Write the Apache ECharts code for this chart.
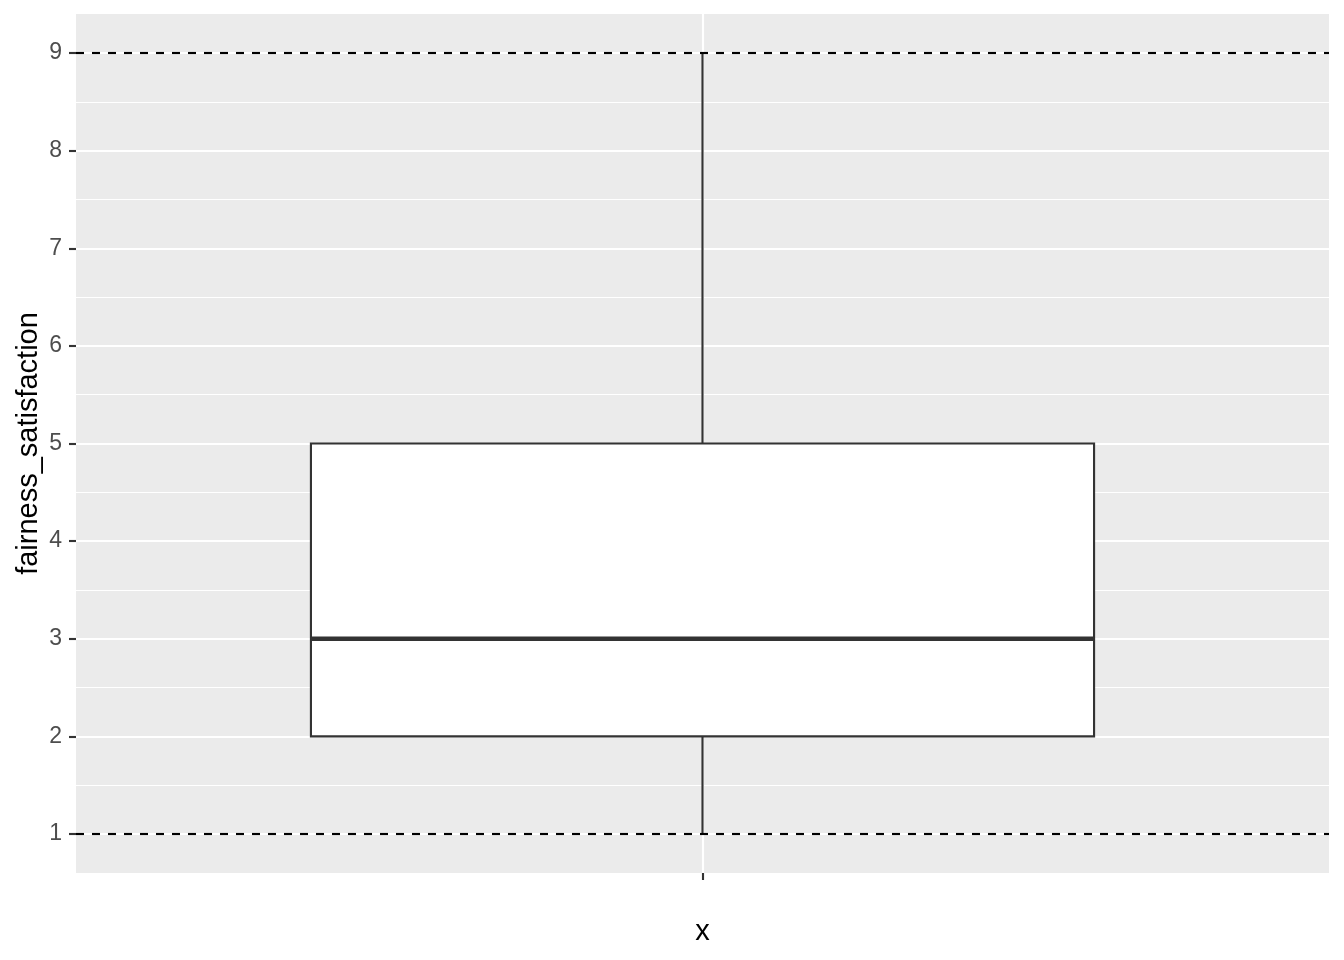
<!DOCTYPE html>
<html>
<head>
<meta charset="utf-8">
<script src="https://cdn.jsdelivr.net/npm/echarts@6/dist/echarts.min.js"></script>
<style>
html,body{margin:0;padding:0;background:#fff;}
#chart{width:1344px;height:960px;}
</style>
</head>
<body>
<div id="chart"></div>
<script>
// data
var categories = [''];
var boxStats = [[0, 1, 2, 3, 5, 9]]; // [category index, min, Q1, median, Q3, max]
var yTicks = [1, 2, 3, 4, 5, 6, 7, 8, 9];
var yMinorGrid = [1.5, 2.5, 3.5, 4.5, 5.5, 6.5, 7.5, 8.5];
var refLines = [1, 9];
var yTitle = 'fairness_satisfaction';
var xTitle = 'x';

var chart = echarts.init(document.getElementById('chart'), null, {renderer: 'canvas'});

var FONT = '"Liberation Sans", Arial, sans-serif';

var gridLines = [];
yMinorGrid.forEach(function (v) {
  gridLines.push({yAxis: v, lineStyle: {color: '#FFFFFF', width: 1.07, type: 'solid'}});
});
yTicks.forEach(function (v) {
  gridLines.push({yAxis: v, lineStyle: {color: '#FFFFFF', width: 2.13, type: 'solid'}});
});
gridLines.push({xAxis: 0, lineStyle: {color: '#FFFFFF', width: 2.13, type: 'solid'}});

var option = {
  backgroundColor: '#FFFFFF',
  animation: false,
  grid: {
    left: 76, right: 15, top: 14, bottom: 87,
    show: true, backgroundColor: '#EBEBEB', borderWidth: 0
  },
  xAxis: {
    type: 'category',
    data: categories,
    boundaryGap: true,
    axisLine: {show: false},
    axisTick: {show: true, alignWithLabel: true, length: 7, lineStyle: {color: '#333333', width: 2.13}},
    axisLabel: {show: true, color: '#4D4D4D', fontSize: 23, fontFamily: FONT},
    splitLine: {show: false},
    name: xTitle,
    nameLocation: 'middle',
    nameGap: 44,
    nameMoveOverlap: false,
    nameTextStyle: {color: '#000000', fontSize: 29, fontFamily: FONT}
  },
  yAxis: {
    type: 'value',
    min: 0.6,
    max: 9.4,
    axisLine: {show: false},
    axisTick: {show: true, length: 7, customValues: yTicks, lineStyle: {color: '#333333', width: 2.13}},
    axisLabel: {show: true, customValues: yTicks, margin: 14, color: '#4D4D4D', fontSize: 23, fontFamily: FONT},
    splitLine: {show: false},
    minorSplitLine: {show: false},
    name: yTitle,
    nameLocation: 'middle',
    nameGap: 33,
    nameMoveOverlap: false,
    nameRotate: 90,
    nameTextStyle: {color: '#000000', fontSize: 29, fontFamily: FONT}
  },
  series: [
    {
      type: 'line',
      data: [],
      z: 1,
      silent: true,
      markLine: {
        z: 1,
        silent: true,
        symbol: ['none', 'none'],
        label: {show: false},
        animation: false,
        data: gridLines
      }
    },
    {
      type: 'custom',
      z: 3,
      silent: true,
      data: boxStats,
      encode: {x: 0, y: [1, 2, 3, 4, 5]},
      renderItem: function (params, api) {
        var xi = api.value(0);
        var pMin = api.coord([xi, api.value(1)]);
        var pQ1 = api.coord([xi, api.value(2)]);
        var pMed = api.coord([xi, api.value(3)]);
        var pQ3 = api.coord([xi, api.value(4)]);
        var pMax = api.coord([xi, api.value(5)]);
        var w = api.size([1, 0])[0] * 0.625;
        var cx = pMed[0];
        var stroke = '#333333';
        return {
          type: 'group',
          children: [
            {type: 'line', shape: {x1: cx, y1: pMin[1], x2: cx, y2: pQ1[1]}, style: {stroke: stroke, lineWidth: 2.13}},
            {type: 'line', shape: {x1: cx, y1: pQ3[1], x2: cx, y2: pMax[1]}, style: {stroke: stroke, lineWidth: 2.13}},
            {type: 'rect', shape: {x: cx - w / 2, y: pQ3[1], width: w, height: pQ1[1] - pQ3[1]}, style: {fill: '#FFFFFF', stroke: stroke, lineWidth: 2.13}},
            {type: 'line', shape: {x1: cx - w / 2, y1: pMed[1], x2: cx + w / 2, y2: pMed[1]}, style: {stroke: stroke, lineWidth: 4.6}}
          ]
        };
      }
    },
    {
      type: 'line',
      data: [],
      z: 5,
      silent: true,
      markLine: {
        z: 10,
        silent: true,
        symbol: ['none', 'none'],
        label: {show: false},
        animation: false,
        data: refLines.map(function (v) {
          return {yAxis: v, lineStyle: {color: '#000000', width: 2.13, type: [8, 8]}};
        })
      }
    }
  ]
};
chart.setOption(option);
</script>
</body>
</html>
